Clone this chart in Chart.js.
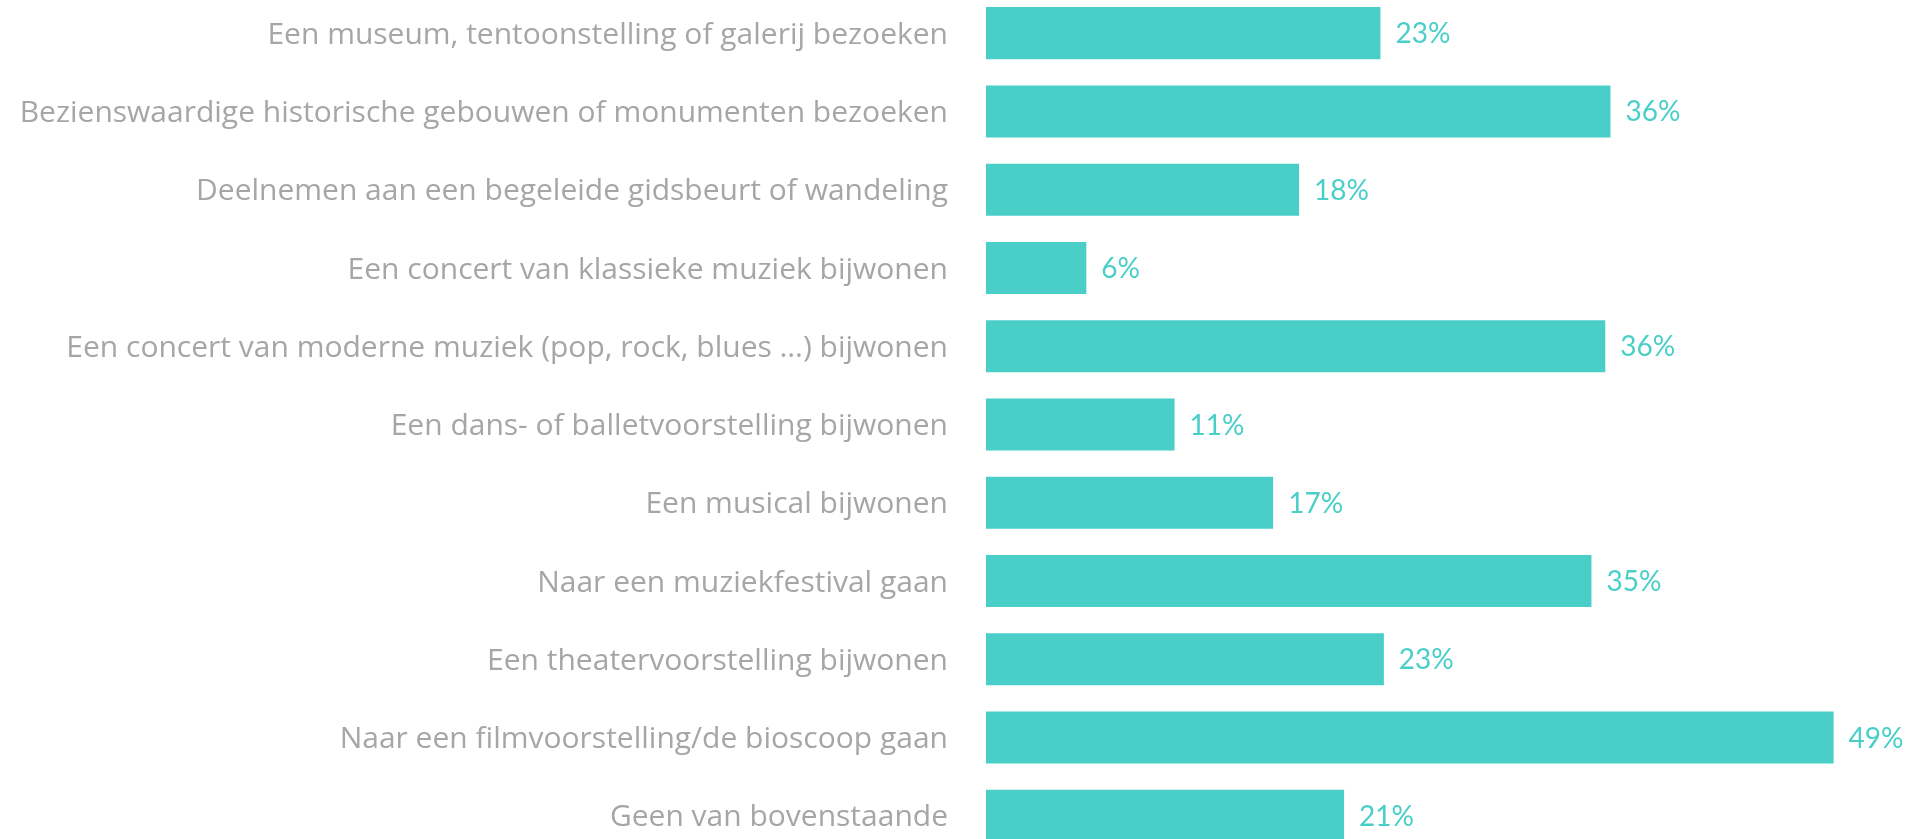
<!DOCTYPE html>
<html>
<head>
<meta charset="utf-8">
<script src="https://cdn.jsdelivr.net/npm/chart.js@4.4.1/dist/chart.umd.min.js"></script>
<style>
    html, body { margin: 0; padding: 0; background: #ffffff; overflow: hidden; }
    #wrap { position: absolute; left: 0; top: -6px; width: 1908px; height: 861px; }
</style>
</head>
<body>
<div id="wrap"><canvas id="activities-chart"></canvas></div>
<script>
// --- Dados ---
const categories = [
    'Een museum, tentoonstelling of galerij bezoeken',
    'Bezienswaardige historische gebouwen of monumenten bezoeken',
    'Deelnemen aan een begeleide gidsbeurt of wandeling',
    'Een concert van klassieke muziek bijwonen',
    'Een concert van moderne muziek (pop, rock, blues …) bijwonen',
    'Een dans- of balletvoorstelling bijwonen',
    'Een musical bijwonen',
    'Naar een muziekfestival gaan',
    'Een theatervoorstelling bijwonen',
    'Naar een filmvoorstelling/de bioscoop gaan',
    'Geen van bovenstaande'
];
const percentages = [22.8, 36.1, 18.1, 5.8, 35.8, 10.9, 16.6, 35.0, 23.0, 49.0, 20.7];
const valueLabels = ['23%', '36%', '18%', '6%', '36%', '11%', '17%', '35%', '23%', '49%', '21%'];

const barColor = '#49CFC8';
const labelColor = '#A6A6A6';
const labelFont = '"Open Sans", sans-serif';
const valueFont = 'Lato, sans-serif';

// Escreve o valor à direita de cada barra
const valueLabelPlugin = {
    id: 'valueLabels',
    afterDatasetsDraw(chart) {
        const ctx = chart.ctx;
        const meta = chart.getDatasetMeta(0);
        ctx.save();
        ctx.font = `28px ${valueFont}`;
        ctx.fillStyle = barColor;
        ctx.textAlign = 'left';
        ctx.textBaseline = 'middle';
        meta.data.forEach((bar, i) => {
            ctx.fillText(valueLabels[i], bar.x + 15, bar.y + 1);
        });
        ctx.restore();
    }
};

new Chart(document.getElementById('activities-chart'), {
    type: 'bar',
    data: {
        labels: categories,
        datasets: [{
            data: percentages,
            backgroundColor: barColor,
            borderWidth: 0,
            barPercentage: 0.665,
            categoryPercentage: 1
        }]
    },
    options: {
        indexAxis: 'y',
        responsive: true,
        maintainAspectRatio: false,
        animation: false,
        layout: { padding: 0 },
        plugins: {
            legend: { display: false },
            tooltip: { enabled: false }
        },
        scales: {
            x: {
                display: false,
                min: 0,
                max: 53.3
            },
            y: {
                grid: { display: false, drawTicks: false },
                border: { display: false },
                ticks: {
                    color: labelColor,
                    padding: 38,
                    labelOffset: 2,
                    font: { family: labelFont, size: 30 }
                },
                afterFit(scale) {
                    // largura fixa do eixo e sem margens extras em cima/baixo
                    scale.width = 986;
                    scale.paddingTop = 0;
                    scale.paddingBottom = 0;
                }
            }
        }
    },
    plugins: [valueLabelPlugin]
});
</script>
</body>
</html>
